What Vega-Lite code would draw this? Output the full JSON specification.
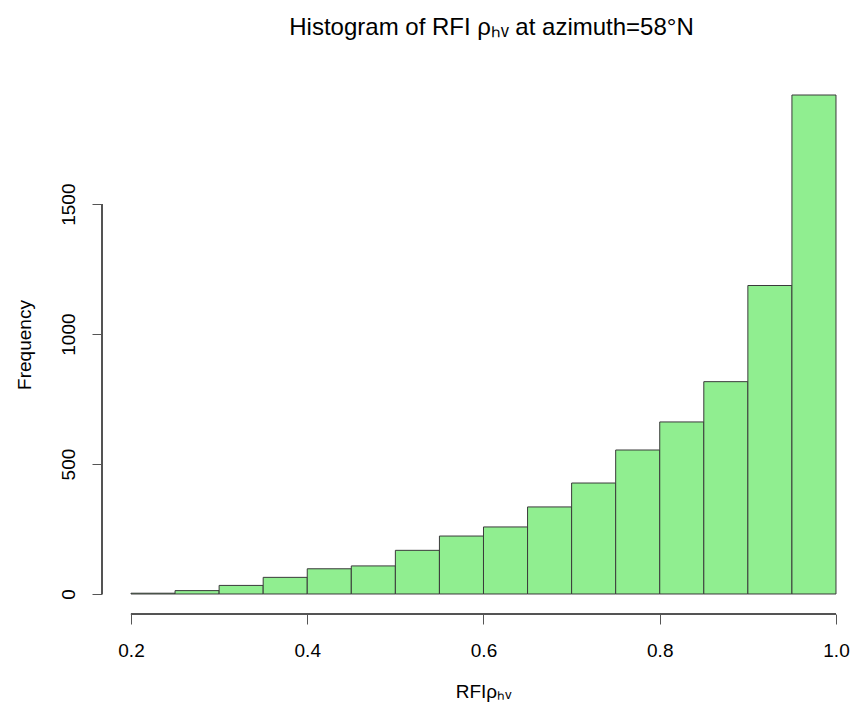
{
  "$schema": "https://vega.github.io/schema/vega-lite/v6.json",
  "width": 751,
  "height": 539,
  "autosize": {"type": "none"},
  "padding": {"left": 102, "top": 75, "right": 0, "bottom": 94},
  "background": "white",
  "config": {
    "view": {"stroke": null},
    "font": "Liberation Sans",
    "title": {"font": "Liberation Sans", "fontSize": 24, "fontWeight": "normal", "color": "black"},
    "axis": {"grid": false, "labelFont": "Liberation Sans", "titleFont": "Liberation Sans", "labelFontSize": 19, "titleFontSize": 19, "titleFontWeight": "normal", "labelColor": "black", "titleColor": "black", "tickColor": "#555", "tickSize": 10, "tickWidth": 1, "domain": false}
  },
  "title": {"text": "Histogram of RFI ρₕᵥ at azimuth=58°N", "anchor": "middle", "dx": 14, "offset": 35},
  "data": {"values": [
    {"bin_start": 0.20, "bin_end": 0.25, "count": 3},
    {"bin_start": 0.25, "bin_end": 0.30, "count": 13},
    {"bin_start": 0.30, "bin_end": 0.35, "count": 33},
    {"bin_start": 0.35, "bin_end": 0.40, "count": 64},
    {"bin_start": 0.40, "bin_end": 0.45, "count": 97},
    {"bin_start": 0.45, "bin_end": 0.50, "count": 108},
    {"bin_start": 0.50, "bin_end": 0.55, "count": 168},
    {"bin_start": 0.55, "bin_end": 0.60, "count": 223},
    {"bin_start": 0.60, "bin_end": 0.65, "count": 258},
    {"bin_start": 0.65, "bin_end": 0.70, "count": 335},
    {"bin_start": 0.70, "bin_end": 0.75, "count": 427},
    {"bin_start": 0.75, "bin_end": 0.80, "count": 554},
    {"bin_start": 0.80, "bin_end": 0.85, "count": 662},
    {"bin_start": 0.85, "bin_end": 0.90, "count": 817},
    {"bin_start": 0.90, "bin_end": 0.95, "count": 1187},
    {"bin_start": 0.95, "bin_end": 1.00, "count": 1920}
  ]},
  "layer": [
    {
      "mark": {"type": "rect", "fill": "#90EE90", "stroke": "#3a3a3a", "strokeWidth": 1},
      "encoding": {
        "x": {"field": "bin_start", "type": "quantitative",
              "scale": {"domain": [0.1671, 1.0193], "nice": false, "zero": false},
              "axis": {"values": [0.2, 0.4, 0.6, 0.8, 1.0], "format": ".1f", "title": "RFIρₕᵥ", "labelPadding": 17, "titleX": 381, "titlePadding": 22}},
        "x2": {"field": "bin_end"},
        "y": {"field": "count", "type": "quantitative",
              "scale": {"domain": [-77, 1997], "nice": false, "zero": false},
              "axis": {"values": [0, 500, 1000, 1500], "format": "d", "title": "Frequency", "labelAngle": -90, "labelAlign": "center", "labelBaseline": "bottom", "labelPadding": 14, "titlePadding": 25}},
        "y2": {"datum": 0}
      }
    },
    {
      "mark": {"type": "rule", "color": "#555", "strokeWidth": 1},
      "encoding": {"x": {"datum": 0.2}, "x2": {"datum": 1.0}, "y": {"datum": -77}}
    },
    {
      "mark": {"type": "rule", "color": "#555", "strokeWidth": 1},
      "encoding": {"x": {"datum": 0.1671}, "y": {"datum": 0}, "y2": {"datum": 1500}}
    }
  ]
}
